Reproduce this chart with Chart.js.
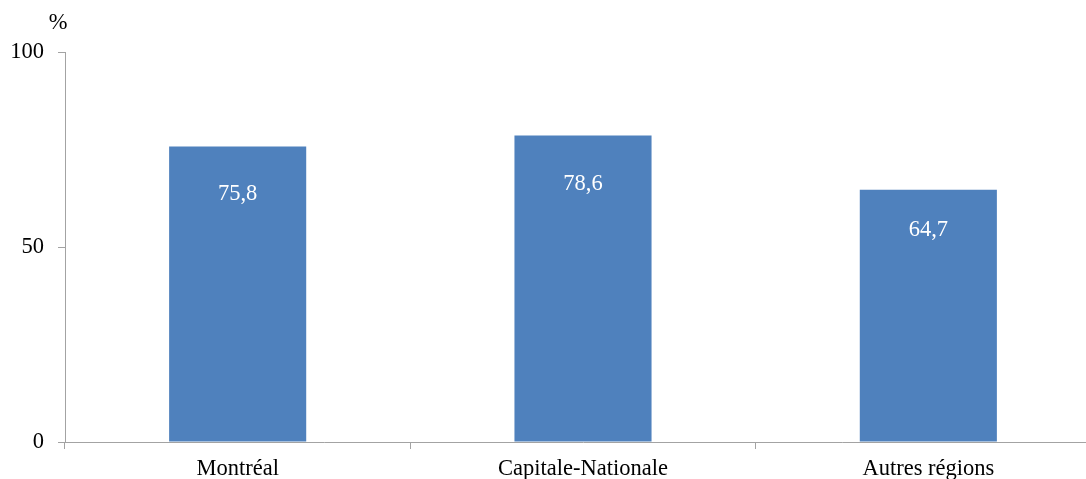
<!DOCTYPE html>
<html>
<head>
<meta charset="utf-8">
<script src="https://cdn.jsdelivr.net/npm/chart.js@4.4.1/dist/chart.umd.min.js"></script>
<style>
html,body{margin:0;padding:0;background:#fff;overflow:hidden;}
#wrap{width:1102px;height:479px;position:relative;}
</style>
</head>
<body>
<div id="wrap"><canvas id="c"></canvas></div>
<script>
const categories = ["Montréal", "Capitale-Nationale", "Autres régions"];
const values = [75.8, 78.6, 64.7];
const yTicks = [0, 50, 100];
const unitLabel = "%";

const FONT = "'Liberation Serif', 'Times New Roman', serif";
const FS = 22.5;
const AXIS = "#a3a3a3";

const labelPlugin = {
  id: 'barLabels',
  afterDatasetsDraw(chart) {
    const ctx = chart.ctx;
    const meta = chart.getDatasetMeta(0);
    ctx.save();
    ctx.font = FS + "px " + FONT;
    ctx.fillStyle = "#ffffff";
    ctx.textAlign = "center";
    ctx.textBaseline = "middle";
    meta.data.forEach((bar, i) => {
      const h = bar.base - bar.y;
      ctx.fillText(values[i].toFixed(1).replace('.', ','), bar.x, bar.y + h * 0.16);
    });
    const ys = chart.scales.y;
    ctx.fillStyle = "#000";
    ctx.fillText(unitLabel, ys.right - 7, ys.top - 29);
    ctx.restore();
  }
};

new Chart(document.getElementById('c'), {
  type: 'bar',
  data: {
    labels: categories,
    datasets: [{
      data: values,
      backgroundColor: '#4f81bd',
      borderWidth: 0,
      barPercentage: 0.397,
      categoryPercentage: 1.0
    }]
  },
  options: {
    responsive: true,
    maintainAspectRatio: false,
    devicePixelRatio: 1,
    animation: false,
    layout: { padding: { top: 52, right: 1, left: 0, bottom: 0 } },
    plugins: { legend: { display: false }, tooltip: { enabled: false } },
    scales: {
      x: {
        grid: { display: true, drawOnChartArea: false, drawTicks: true, tickLength: 7, color: AXIS, offset: true },
        border: { color: AXIS, width: 1 },
        ticks: { color: '#000', font: { family: FONT, size: FS }, padding: 7, maxRotation: 0 },
        afterFit(s) { s.height = 37; }
      },
      y: {
        min: 0, max: 100,
        afterBuildTicks(s) { s.ticks = yTicks.map(v => ({ value: v })); },
        grid: { display: true, drawOnChartArea: false, drawTicks: true, tickLength: 7, color: AXIS },
        border: { color: AXIS, width: 1 },
        ticks: { color: '#000', font: { family: FONT, size: FS }, padding: 14 },
        afterFit(s) { s.width = 65; }
      }
    }
  },
  plugins: [labelPlugin]
});
</script>
</body>
</html>
